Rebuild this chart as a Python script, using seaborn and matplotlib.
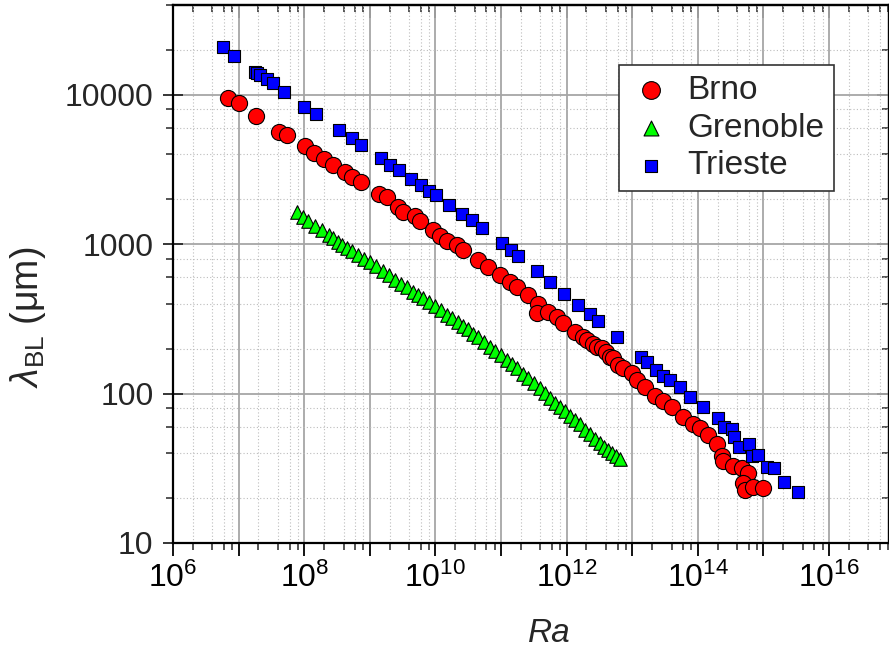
import numpy as np
import pandas as pd
import matplotlib
matplotlib.use("Agg")
import matplotlib.pyplot as plt
from matplotlib.ticker import LogLocator, FuncFormatter, NullFormatter
import seaborn as sns

# Boundary-layer thickness versus Rayleigh number for three experiments
brno_ra = [6.89e6, 1.01e7, 1.84e7, 4.13e7, 5.47e7, 1.03e8, 1.41e8, 2.00e8, 2.75e8,
           4.19e8, 5.35e8, 7.34e8, 1.38e9, 1.83e9, 2.69e9, 3.21e9, 4.89e9, 5.82e9,
           9.19e9, 1.17e10, 1.50e10, 2.13e10, 2.64e10, 4.46e10, 6.34e10, 9.66e10,
           1.37e11, 1.75e11, 2.58e11, 3.66e11, 3.54e11, 5.20e11, 7.14e11, 8.81e11,
           1.34e12, 1.78e12, 2.05e12, 2.52e12, 2.91e12, 3.47e12, 3.99e12, 4.59e12,
           5.09e12, 6.08e12, 7.24e12, 9.93e12, 1.18e13, 1.57e13, 2.23e13, 2.95e13,
           4.04e13, 5.94e13, 8.45e13, 1.08e14, 1.43e14, 1.96e14, 2.34e14, 2.42e14,
           3.44e14, 4.72e14, 5.82e14, 4.89e14, 5.25e14, 6.94e14, 9.86e14]
brno_lam = [9480, 8770, 7180, 5610, 5360, 4530, 4060, 3700, 3380,
            3030, 2810, 2600, 2160, 2060, 1770, 1640, 1540, 1430,
            1240, 1130, 1050, 985, 912, 782, 702, 621,
            557, 516, 456, 397, 345, 351, 325, 296,
            258, 239, 228, 214, 205, 202, 190, 175,
            173, 155, 148, 137, 123, 110, 96.2, 89.1,
            81.3, 69.6, 62.5, 58.8, 52.8, 45.9, 38.2, 35.4,
            32.7, 31.8, 29.4, 25.2, 22.6, 23.7, 23.3]

grenoble_ra = [7.77e7, 9.59e7, 1.14e8, 1.46e8, 1.87e8, 2.39e8, 2.75e8, 3.27e8, 3.77e8,
               4.49e8, 5.35e8, 6.61e8, 8.16e8, 1.01e9, 1.24e9, 1.59e9, 1.96e9, 2.42e9,
               2.99e9, 3.69e9, 4.56e9, 5.43e9, 6.47e9, 7.98e9, 9.86e9, 1.22e10, 1.50e10,
               1.79e10, 2.21e10, 2.64e10, 3.14e10, 3.74e10, 4.46e10, 5.51e10, 6.79e10,
               8.11e10, 1.00e11, 1.23e11, 1.47e11, 1.75e11, 2.16e11, 2.58e11, 3.18e11,
               3.94e11, 4.69e11, 5.59e11, 6.65e11, 7.93e11, 9.46e11, 1.13e12, 1.34e12,
               1.60e12, 1.91e12, 2.28e12, 2.71e12, 3.23e12, 3.72e12, 4.28e12, 4.92e12,
               5.66e12, 6.52e12]
grenoble_lam = [1637, 1516, 1425, 1319, 1241, 1148, 1096, 1031, 985,
                940, 898, 844, 794, 758, 713, 660, 621, 574,
                540, 516, 477, 456, 435, 409, 385, 362, 335,
                320, 301, 283, 270, 250, 239, 221, 205,
                192, 181, 168, 157, 148, 135, 127, 118,
                109, 101, 93.3, 86.3, 81.3, 76.4, 70.7, 66.5,
                62.5, 57.0, 53.6, 49.6, 46.7, 43.9, 41.9, 40.0,
                38.2, 36.5]

trieste_ra = [5.78e6, 8.51e6, 1.78e7, 1.91e7, 2.12e7, 2.71e7, 3.34e7, 4.92e7, 9.93e7,
              1.51e8, 3.39e8, 5.35e8, 7.34e8, 1.48e9, 2.03e9, 2.79e9, 4.25e9, 6.03e9,
              7.98e9, 1.02e10, 1.61e10, 2.54e10, 3.61e10, 5.13e10, 1.03e11, 1.42e11,
              1.82e11, 3.54e11, 5.58e11, 9.12e11, 1.49e12, 2.28e12, 3.01e12, 5.86e12,
              1.36e13, 1.68e13, 2.31e13, 2.95e13, 3.77e13, 5.36e13, 7.60e13, 1.20e14,
              2.03e14, 2.51e14, 3.32e14, 3.56e14, 4.25e14, 6.03e14, 6.70e14, 8.28e14,
              1.14e15, 1.45e15, 2.06e15, 3.37e15]
trieste_lam = [20800, 18100, 14150, 13930, 13500, 12700, 11940, 10400, 8250,
               7410, 5790, 5120, 4590, 3760, 3380, 3130, 2720, 2480,
               2260, 2130, 1820, 1590, 1450, 1280, 1016, 912,
               832, 660, 557, 463, 391, 340, 305, 239,
               175, 163, 144, 131, 123, 110, 94.8, 81.3,
               68.6, 59.7, 57.9, 51.2, 43.9, 45.9, 38.2, 38.8,
               32.2, 31.8, 25.6, 21.9]

series = [
    ("Brno", brno_ra, brno_lam, "o", "#ff0000", 135),
    ("Grenoble", grenoble_ra, grenoble_lam, "^", "#00ff00", 95),
    ("Trieste", trieste_ra, trieste_lam, "s", "#0000ff", 64),
]

sns.set_style("ticks")
plt.rcParams["font.family"] = ["Liberation Sans", "DejaVu Sans"]
plt.rcParams["mathtext.fontset"] = "custom"
plt.rcParams["mathtext.rm"] = "Liberation Sans"
plt.rcParams["mathtext.it"] = "Liberation Sans:italic"
plt.rcParams["mathtext.bf"] = "Liberation Sans:bold"

fig = plt.figure(figsize=(8.89, 6.53), dpi=100)
ax = fig.add_axes([173 / 889, 1 - 543 / 653, 716 / 889, 538 / 653])

for name, ra, lam, mk, col, size in series:
    df = pd.DataFrame({"Ra": ra, "lam": lam})
    sns.scatterplot(data=df, x="Ra", y="lam", marker=mk, color=col, s=size,
                    edgecolor="black", linewidth=0.8, label=name, ax=ax, zorder=3)

ax.set_xscale("log")
ax.set_yscale("log")
ax.set_xlim(1e6, 10 ** (6 + 716 / 65.6))
ax.set_ylim(10, 4e4)

for axis in (ax.xaxis, ax.yaxis):
    axis.set_major_locator(LogLocator(base=10, numticks=40))
    axis.set_minor_locator(LogLocator(base=10, subs=(2, 4, 6, 8), numticks=40))
    axis.set_minor_formatter(NullFormatter())


def even_power(v, pos):
    e = int(round(np.log10(v)))
    return rf"$10^{{{e}}}$" if e % 2 == 0 else ""


ax.xaxis.set_major_formatter(FuncFormatter(even_power))
ax.yaxis.set_major_formatter(FuncFormatter(lambda v, p: f"{v:.0f}"))

ax.set_axisbelow(True)
ax.grid(which="major", color="#a6a6a6", lw=1.3, ls="-")
ax.grid(which="minor", color="#bdbdbd", lw=0.8, ls=(0, (1, 2)))

ax.tick_params(axis="x", which="major", direction="out", length=9, width=1.3,
               labelsize=23, pad=5, colors="black")
ax.tick_params(axis="x", which="minor", direction="out", length=5, width=1.1)
ax.tick_params(axis="y", which="major", direction="inout", length=14, width=1.3,
               labelsize=23, pad=7)
ax.tick_params(axis="y", which="minor", direction="out", length=5, width=1.1)

for sp in ax.spines.values():
    sp.set_linewidth(1.6)
    sp.set_color("black")

# inward ticks on the top and right frame
top = ax.secondary_xaxis("top")
right = ax.secondary_yaxis("right")
for sec, axis in ((top, top.xaxis), (right, right.yaxis)):
    axis.set_major_locator(LogLocator(base=10, numticks=40))
    axis.set_minor_locator(LogLocator(base=10, subs=(2, 4, 6, 8), numticks=40))
    axis.set_major_formatter(NullFormatter())
    axis.set_minor_formatter(NullFormatter())
    sec.tick_params(which="major", direction="in", length=9, width=1.3)
    sec.tick_params(which="minor", direction="in", length=5, width=1.1)
    for sp in sec.spines.values():
        sp.set_linewidth(1.6)

ax.set_xlabel("Ra", fontsize=24, fontstyle="italic")
ax.set_ylabel(r"$\lambda_{\mathrm{BL}}$ (μm)", fontsize=27)
ax.xaxis.set_label_coords(0.525, -0.14)
ax.yaxis.set_label_coords(-0.175, 0.42)

leg = ax.legend(loc="upper left", bbox_to_anchor=((619 - 173) / 716, (543 - 65) / 538),
                borderaxespad=0, frameon=True, fancybox=False, framealpha=1,
                edgecolor="#333333", fontsize=24, handletextpad=0.45,
                labelspacing=0.2, borderpad=0.3, handlelength=1.3, markerscale=1.1)
leg.get_frame().set_linewidth(1.2)

fig.savefig("out.png", dpi=100)
